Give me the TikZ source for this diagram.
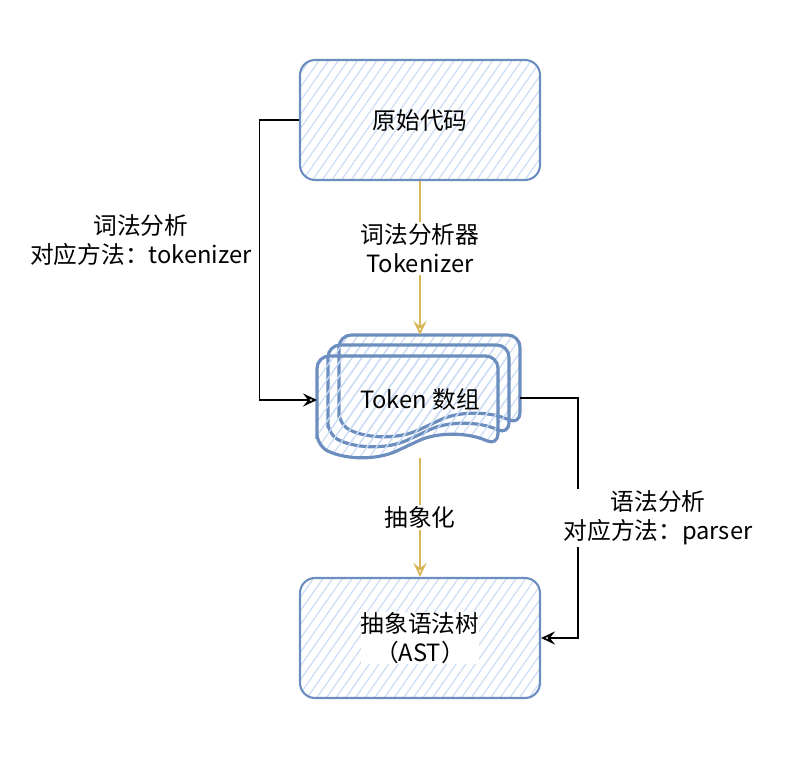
\documentclass[tikz,border=0pt]{standalone}
\usepackage{fontspec}
\setmainfont{Noto Sans CJK SC}
\usetikzlibrary{arrows.meta,patterns.meta}

\definecolor{lanbian}{HTML}{6C8EBF}
\definecolor{lantian}{HTML}{CCDDF5}
\definecolor{jinse}{HTML}{D6B656}

\tikzset{
  wenzi/.style={font=\fontsize{13.5pt}{16.5pt}\selectfont, align=center},
  kuang/.style={draw=lanbian, line width=1.2pt, rounded corners=0.3cm,
    minimum width=4.8cm, minimum height=2.4cm,
    pattern={Lines[angle=55, distance=4.5pt, line width=0.7pt]}, pattern color=lantian},
  wendang/.style={draw=lanbian, line width=1.8pt, rounded corners=7,
    pattern={Lines[angle=55, distance=4.5pt, line width=0.7pt]}, pattern color=lantian},
  liucheng/.style={draw=jinse, line width=1pt, -{Stealth[open, length=8pt, width=7.5pt, inset=3pt]}},
  lianjie/.style={draw=black, line width=1pt, -{Stealth[open, length=8pt, width=7.5pt, inset=3pt]}},
  biaoqian/.style={wenzi, fill=white, inner sep=1pt}
}

\begin{document}
\begin{tikzpicture}[x=0.02cm, y=-0.02cm]
  \useasboundingbox (0,0) rectangle (812,778);

  % 原始代码
  \node[kuang, wenzi] (yuanma) at (420,120) {原始代码};

  % Token 数组 (三层文档)
  \foreach \px/\py in {339/335, 328/345, 317/356} {
    \draw[wendang] (\px,\py+90) -- (\px,\py) -- (\px+181,\py) -- (\px+181,\py+90)
      .. controls (\px+151,\py+76) and (\px+120,\py+76) .. (\px+90.5,\py+90)
      .. controls (\px+60,\py+104) and (\px+30,\py+104) .. cycle;
  }
  \node[wenzi] (token) at (420,400) {Token 数组};
  \coordinate (tokenShang) at (420,335);
  \coordinate (tokenXia) at (420,458);
  \coordinate (tokenZuo) at (317,400);
  \coordinate (tokenYou) at (520,398);

  % 抽象语法树
  \node[kuang] (ast) at (420,638) {};
  \node[biaoqian, inner sep=0pt] (astWenzi) at (ast) {抽象语法树\\（AST）};

  % 中间的流程
  \draw[liucheng] (yuanma.south) -- (tokenShang)
    node[biaoqian, pos=0.44] (fenxiqi) {词法分析器\\Tokenizer};
  \draw[liucheng] (tokenXia) -- (ast.north)
    node[biaoqian, midway] (chouxiang) {抽象化};

  % 两侧的连线
  \draw[lianjie] (yuanma.west) -- ++(-40,0) |- (tokenZuo);
  \node[wenzi] (cifa) at (141,240) {词法分析\\对应方法：tokenizer};

  \draw[lianjie] (tokenYou) -- ++(58,0) |- (ast.east);
  \node[biaoqian] (yufa) at (658,518) {语法分析\\对应方法：parser};
\end{tikzpicture}
\end{document}
